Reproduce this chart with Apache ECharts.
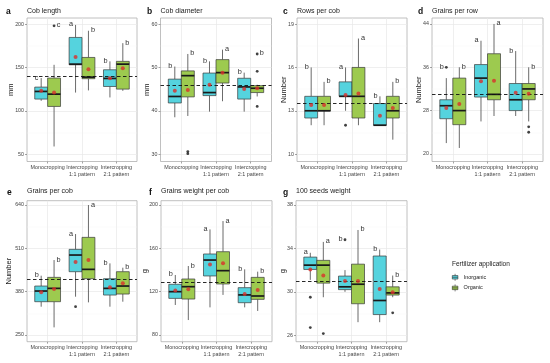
<!DOCTYPE html>
<html><head><meta charset="utf-8">
<script src="https://cdn.jsdelivr.net/npm/echarts@6/dist/echarts.min.js"></script>
<style>html,body{margin:0;padding:0;background:#fff}#c{width:550px;height:363px}</style>
</head><body><div id="c"></div><script>
// ---------- categories / groups ----------
const categories = ['Monocropping', 'Intercropping\n1:1 pattern', 'Intercropping\n2:1 pattern'];
const fertilizers = ['Inorganic', 'Organic'];

// ---------- box stats: [whiskerLow, Q1, median, Q3, whiskerHigh] per category ----------
// a) Cob length (mm)
const cobLengthInorganic = [[111.5,113.5,122.3,127.3,137.7],[121,153,153.8,184.6,199],[115.4,128,137.3,147.3,157]];
const cobLengthOrganic   = [[58.8,105,119.2,137.7,153],[123.5,137,138.8,161.5,192.3],[123,125,153.8,157,178]];
const cobLengthMeanInorganic = [123, 162, 137.5];
const cobLengthMeanOrganic   = [121, 148, 149];
const cobLengthOutliers = [[0,1,198]];            // [category, fertilizer, value]
const cobLengthLettersInorganic = ['c','a','b'];
const cobLengthLettersOrganic   = ['c','b','b'];
const cobLengthOverallMean = 140;
const cobLengthTicks = [50,100,150,200];
const cobLengthRange = [41.5,207];

// b) Cob diameter (mm)
const cobDiameterInorganic = [[38.5,41.8,43.3,47.3,50.2],[39.8,43.5,44.2,48.7,51.4],[39.8,42.7,45.5,47.5,48.8]];
const cobDiameterOrganic   = [[38.8,43.2,48.1,49.2,53.1],[42.2,46.4,48.8,51.8,54.1],[43.3,44.2,45.2,45.8,46]];
const cobDiameterMeanInorganic = [44.6, 46, 45];
const cobDiameterMeanOrganic   = [44.8, 48.8, 45.2];
const cobDiameterOutliers = [[0,1,30.6],[0,1,30.1],[2,1,53.1],[2,1,49.1],[2,1,41]];
const cobDiameterLettersInorganic = ['b','b','b'];
const cobDiameterLettersOrganic   = ['b','a','b'];
const cobDiameterOverallMean = 45.8;
const cobDiameterTicks = [30,40,50,60];
const cobDiameterRange = [28.3,61.4];

// c) Rows per cob (Number)
const rowsInorganic = [[12,12.5,13,14,16],[13,14,14,15,16],[12,12,12,13.5,14]];
const rowsOrganic   = [[12,13,13,14,15],[12,12.5,14,16,18],[11,12.5,13,14,15]];
const rowsMeanInorganic = [13.4, 14.1, 12.65];
const rowsMeanOrganic   = [13.4, 14.2, 13.2];
const rowsOutliers = [[1,0,12]];
const rowsLettersInorganic = ['b','a','b'];
const rowsLettersOrganic   = ['b','a','b'];
const rowsOverallMean = 13.5;
const rowsTicks = [10,13,16,19];
const rowsRange = [9.49,19.42];

// d) Grains per row (Number)
const grainsRowInorganic = [[22,26.5,28.9,30,34],[26,30.5,34,36.5,40.9],[27,28,30,33,39]];
const grainsRowOrganic   = [[21.1,25.4,28,34,36],[27,30,31,38.5,44],[26,30,32,33,36]];
const grainsRowMeanInorganic = [28.5, 33.4, 31.3];
const grainsRowMeanOrganic   = [29.2, 33.5, 31.1];
const grainsRowOutliers = [[0,0,36],[2,1,25],[2,1,24]];
const grainsRowLettersInorganic = ['b','a','b'];
const grainsRowLettersOrganic   = ['b','a','b'];
const grainsRowOverallMean = 31.1;
const grainsRowTicks = [20,28,36,44];
const grainsRowRange = [18.6,45.1];

// e) Grains per cob (Number)
const grainsCobInorganic = [[335,350,382,397,428],[365,440,490,507,553],[335,370,390,419,465]];
const grainsCobOrganic   = [[273,350,390,423,475],[348,419,447,543,640],[350,373,397,440,452]];
const grainsCobMeanInorganic = [378, 469, 393];
const grainsCobMeanOrganic   = [388, 475, 405];
const grainsCobOutliers = [[1,0,335]];
const grainsCobLettersInorganic = ['b','a','b'];
const grainsCobLettersOrganic   = ['b','a','b'];
const grainsCobOverallMean = 418;
const grainsCobTicks = [250,380,510,640];
const grainsCobRange = [230,653];

// f) Grains weight per cob (g)
const grainWeightInorganic = [[107.7,113.8,120,126.8,135.4],[105.5,134.5,149.2,154.8,177.5],[105.5,109.8,117,123.7,140.6]];
const grainWeightOrganic   = [[93.8,113.2,124.6,131.7,143.7],[117,127.1,139.4,156.9,185.2],[102.2,112.9,116,133.2,138.5]];
const grainWeightMeanInorganic = [121, 145.2, 117.8];
const grainWeightMeanOrganic   = [122.2, 146.2, 121.5];
const grainWeightOutliers = [];
const grainWeightLettersInorganic = ['b','a','b'];
const grainWeightLettersOrganic   = ['b','a','b'];
const grainWeightOverallMean = 128.6;
const grainWeightTicks = [80,120,160,200];
const grainWeightRange = [73.8,204];

// g) 100 seeds weight (g)
const seedWeightInorganic = [[31.1,32.06,32.46,33.2,33.6],[30,30.2,30.46,31.45,32],[27.2,27.9,29.2,33.3,33.9]];
const seedWeightOrganic   = [[29.5,30.8,32.46,32.9,34.6],[27.2,28.9,30.7,32.55,35.7],[29.5,29.7,29.9,30.46,31.5]];
const seedWeightMeanInorganic = [32.06, 31, 30.25];
const seedWeightMeanOrganic   = [31.5, 31, 29.97];
const seedWeightOutliers = [[0,0,29.5],[0,0,26.7],[0,1,26.15],[1,0,34.8],[2,1,28.06]];
const seedWeightLettersInorganic = ['a','b','b'];
const seedWeightLettersOrganic   = ['a','b','b'];
const seedWeightOverallMean = 31;
const seedWeightTicks = [26,30,34,38];
const seedWeightRange = [25.4,38.4];

// ---------- panel table built from the arrays ----------
const panels = [
  {tag:'a', title:'Cob length', yName:'mm', box:[cobLengthInorganic,cobLengthOrganic], mean:[cobLengthMeanInorganic,cobLengthMeanOrganic], out:cobLengthOutliers, letters:[cobLengthLettersInorganic,cobLengthLettersOrganic], ref:cobLengthOverallMean, ticks:cobLengthTicks, range:cobLengthRange},
  {tag:'b', title:'Cob diameter', yName:'mm', box:[cobDiameterInorganic,cobDiameterOrganic], mean:[cobDiameterMeanInorganic,cobDiameterMeanOrganic], out:cobDiameterOutliers, letters:[cobDiameterLettersInorganic,cobDiameterLettersOrganic], ref:cobDiameterOverallMean, ticks:cobDiameterTicks, range:cobDiameterRange},
  {tag:'c', title:'Rows per cob', yName:'Number', box:[rowsInorganic,rowsOrganic], mean:[rowsMeanInorganic,rowsMeanOrganic], out:rowsOutliers, letters:[rowsLettersInorganic,rowsLettersOrganic], ref:rowsOverallMean, ticks:rowsTicks, range:rowsRange},
  {tag:'d', title:'Grains per row', yName:'Number', box:[grainsRowInorganic,grainsRowOrganic], mean:[grainsRowMeanInorganic,grainsRowMeanOrganic], out:grainsRowOutliers, letters:[grainsRowLettersInorganic,grainsRowLettersOrganic], ref:grainsRowOverallMean, ticks:grainsRowTicks, range:grainsRowRange},
  {tag:'e', title:'Grains per cob', yName:'Number', box:[grainsCobInorganic,grainsCobOrganic], mean:[grainsCobMeanInorganic,grainsCobMeanOrganic], out:grainsCobOutliers, letters:[grainsCobLettersInorganic,grainsCobLettersOrganic], ref:grainsCobOverallMean, ticks:grainsCobTicks, range:grainsCobRange},
  {tag:'f', title:'Grains weight per cob', yName:'g', box:[grainWeightInorganic,grainWeightOrganic], mean:[grainWeightMeanInorganic,grainWeightMeanOrganic], out:grainWeightOutliers, letters:[grainWeightLettersInorganic,grainWeightLettersOrganic], ref:grainWeightOverallMean, ticks:grainWeightTicks, range:grainWeightRange},
  {tag:'g', title:'100 seeds weight', yName:'g', box:[seedWeightInorganic,seedWeightOrganic], mean:[seedWeightMeanInorganic,seedWeightMeanOrganic], out:seedWeightOutliers, letters:[seedWeightLettersInorganic,seedWeightLettersOrganic], ref:seedWeightOverallMean, ticks:seedWeightTicks, range:seedWeightRange}
];

// ---------- layout & style ----------
const layout = [[27,18,110,143.5],[160.5,18,111,143.5],[297,18,110,143.5],[432,18,111,143.5],
                [27,200.7,110,141],[161,200.7,111,141],[296,200.7,111,141]];
const tagPos = [[6,7.5],[147,7.5],[283,7.5],[418,7.5],[7,188],[149,188],[283,188]];
const nameGaps = [12.5,9.5,9.5,9.5,14,12.5,9.5];
const fertColors = ['#55d3de','#9dca4f'];
const FONT = '"Liberation Sans", Arial, sans-serif';
const dodge = 0.1875, boxW = 0.375;
const keyIcon = 'path://M1,2.5H9V7.5H1Z M5,0V2.5 M5,7.5V10 M1,5H9';

function makeBox(color){
  return function(params, api){
    const x = api.value(0);
    const lo = api.coord([x, api.value(1)]);
    const q1 = api.coord([x, api.value(2)]);
    const md = api.coord([x, api.value(3)]);
    const q3 = api.coord([x, api.value(4)]);
    const hi = api.coord([x, api.value(5)]);
    const w = api.size([boxW, 0])[0];
    return {type:'group', children:[
      {type:'line', shape:{x1:lo[0],y1:lo[1],x2:q1[0],y2:q1[1]}, style:{stroke:'#5a5a5a',lineWidth:0.9}},
      {type:'line', shape:{x1:q3[0],y1:q3[1],x2:hi[0],y2:hi[1]}, style:{stroke:'#5a5a5a',lineWidth:0.9}},
      {type:'rect', shape:{x:q1[0]-w/2,y:q3[1],width:w,height:Math.max(q1[1]-q3[1],0.5)}, style:{fill:color,stroke:'#3a3a3a',lineWidth:0.7}},
      {type:'line', shape:{x1:md[0]-w/2,y1:md[1],x2:md[0]+w/2,y2:md[1]}, style:{stroke:'#1a1a1a',lineWidth:1.7}}
    ]};
  };
}

const grid=[], xAxis=[], yAxis=[], series=[], title=[];
panels.forEach((p,i)=>{
  const [l,t,w,h] = layout[i];
  grid.push({left:l, top:t, width:w, height:h, show:true, borderColor:'#b0b0b0', borderWidth:0.8, backgroundColor:'#fff'});
  xAxis.push({type:'value', gridIndex:i, min:0.4, max:3.6,
    axisLine:{show:false},
    axisTick:{show:true, customValues:[1,2,3], length:2, lineStyle:{color:'#666',width:0.6}},
    axisLabel:{customValues:[1,2,3], formatter:v=>categories[Math.round(v)-1], fontSize:5.4, lineHeight:6.4,
      color:'#444', margin:3, fontFamily:FONT, hideOverlap:false, showMinLabel:true, showMaxLabel:true},
    splitLine:{show:true, lineStyle:{color:'#e8e8e8', width:0.7}}});
  const minors = p.ticks.slice(1).map((v,k)=>(v+p.ticks[k])/2);
  yAxis.push({type:'value', gridIndex:i, min:p.range[0], max:p.range[1],
    name:p.yName, nameLocation:'middle', nameGap:nameGaps[i], nameMoveOverlap:false,
    nameTextStyle:{fontSize:7.5, color:'#1a1a1a', fontFamily:FONT},
    axisLine:{show:false},
    axisTick:{show:true, customValues:p.ticks, length:2, lineStyle:{color:'#666',width:0.6}},
    axisLabel:{customValues:p.ticks, fontSize:5.3, color:'#444', margin:3, fontFamily:FONT, hideOverlap:false, showMinLabel:true, showMaxLabel:true},
    splitLine:{show:true, lineStyle:{color:'#e8e8e8', width:0.7}}});
  yAxis.push({type:'value', gridIndex:i, min:p.range[0], max:p.range[1], position:'left',
    axisLine:{show:false}, axisTick:{show:false, customValues:minors}, axisLabel:{show:false},
    splitLine:{show:true, lineStyle:{color:'#f3f3f3', width:0.4}}});

  title.push({text:p.tag, left:tagPos[i][0], top:tagPos[i][1], padding:0, textStyle:{fontSize:8.5, fontWeight:'bold', color:'#111', fontFamily:FONT, lineHeight:9}});
  title.push({text:p.title, left:l, top:(i<4?7.3:187.3), padding:0, textStyle:{fontSize:7, fontWeight:'normal', color:'#1a1a1a', fontFamily:FONT, lineHeight:7.5}});

  // boxes
  p.box.forEach((arr,f)=>{
    series.push({type:'custom', name:fertilizers[f], xAxisIndex:i, yAxisIndex:2*i, z:3, silent:true,
      itemStyle:{color:fertColors[f]}, renderItem:makeBox(fertColors[f]),
      encode:{x:0, y:[1,2,3,4,5]},
      data:arr.map((s,c)=>[c+1+(f?dodge:-dodge)].concat(s))});
  });
  // outliers
  series.push({type:'scatter', name:'outliers', xAxisIndex:i, yAxisIndex:2*i, z:4, silent:true,
    symbolSize:2.8, itemStyle:{color:'#111'},
    data:p.out.map(o=>[o[0]+1+(o[1]?dodge:-dodge), o[2]])});
  // means + overall mean dashed line
  const meanData = [];
  p.mean.forEach((arr,f)=>arr.forEach((v,c)=>meanData.push([c+1+(f?dodge:-dodge), v])));
  series.push({type:'scatter', name:'mean', xAxisIndex:i, yAxisIndex:2*i, z:5, silent:true,
    symbolSize:4, itemStyle:{color:'#d9302a'},
    data:meanData,
    markLine:{silent:true, symbol:['none','none'], label:{show:false}, animation:false,
      lineStyle:{color:'#111', type:[3.5,2.5], width:0.9}, data:[{yAxis:p.ref}]}});
  // significance letters, placed at the top of each group's whisker/outliers
  const letterItems = [];
  p.letters.forEach((arr,f)=>arr.forEach((txt,c)=>{
    let top = p.box[f][c][4];
    p.out.forEach(o=>{ if(o[0]===c && o[1]===f && o[2]>top) top=o[2]; });
    letterItems.push({value:[c+1+(f?dodge:-dodge), top], txt:txt, side:f?1:-1});
  }));
  series.push({type:'custom', name:'letters', xAxisIndex:i, yAxisIndex:2*i, z:6, silent:true,
    encode:{x:0,y:1},
    data:letterItems.map(d=>d.value),
    renderItem:function(params, api){
      const it = letterItems[params.dataIndex];
      const pt = api.coord([api.value(0), api.value(1)]);
      return {type:'text', x:pt[0]+it.side*4.5, y:pt[1]-0.5,
        style:{text:it.txt, fill:'#333', fontSize:7.3, fontFamily:FONT, align:'center', verticalAlign:'middle'}};
    }});
});

title.push({text:'Fertilizer application', left:452, top:260.5, padding:0, textStyle:{fontSize:6.5, fontWeight:'normal', color:'#1a1a1a', fontFamily:FONT, lineHeight:7}});

const chart = echarts.init(document.getElementById('c'), null, {renderer:'canvas'});
chart.setOption({
  animation:false,
  backgroundColor:'#fff',
  title:title,
  grid:grid, xAxis:xAxis, yAxis:yAxis, series:series,
  legend:{orient:'vertical', left:452, top:273.5, padding:0, itemGap:3, itemWidth:7, itemHeight:7,
    selectedMode:false, icon:keyIcon,
    textStyle:{fontSize:5.5, color:'#1a1a1a', fontFamily:FONT, lineHeight:7},
    data:[{name:'Inorganic', itemStyle:{color:fertColors[0], borderColor:'#333', borderWidth:0.6}},
          {name:'Organic', itemStyle:{color:fertColors[1], borderColor:'#333', borderWidth:0.6}}]}
});
</script></body></html>
